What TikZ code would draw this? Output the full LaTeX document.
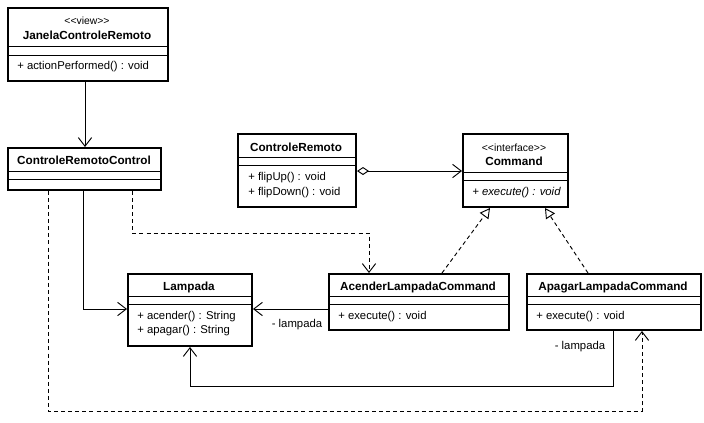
\documentclass[tikz,border=0pt]{standalone}
\usepackage{fontspec}
\setmainfont{Liberation Sans}
\usetikzlibrary{arrows.meta}

\begin{document}
\begin{tikzpicture}[x=0.75pt,y=-0.75pt,
  classbox/.style={draw,line width=1.5pt,anchor=north west,inner sep=0pt},
  cname/.style={font=\fontsize{8.8}{10}\selectfont\bfseries,inner sep=0pt},
  stereo/.style={font=\fontsize{7.8}{8}\selectfont,inner sep=0pt},
  meth/.style={font=\fontsize{8.5}{10}\selectfont,anchor=west,inner sep=0pt},
  compart/.style={line width=0.75pt},
  assoc/.style={line width=0.7pt,-{Straight Barb[length=6.5pt,width=10pt]}},
  depend/.style={assoc,dash pattern=on 3pt off 2.3pt},
  realize/.style={line width=0.7pt,dash pattern=on 3pt off 2.3pt,-{Triangle[open,length=7.5pt,width=8pt]}},
  aggreg/.style={line width=0.7pt,{Diamond[open,length=9pt,width=6pt]}-{Straight Barb[length=6.5pt,width=10pt]}}]

  \path[fill=white,use as bounding box] (0,0) rectangle (704,422);

  % classes
  \node (janela) at (7,7) [classbox,minimum width=120pt,minimum height=54.75pt] {};
  \node (control) at (7,147) [classbox,minimum width=114.75pt,minimum height=31.5pt] {};
  \node (remoto) at (237,133) [classbox,minimum width=88.5pt,minimum height=54.75pt] {};
  \node (command) at (462,133) [classbox,minimum width=78.75pt,minimum height=54.75pt] {};
  \node (lampada) at (127,273) [classbox,minimum width=93pt,minimum height=54pt] {};
  \node (acender) at (328,273) [classbox,minimum width=135pt,minimum height=42pt] {};
  \node (apagar) at (526,273) [classbox,minimum width=130.5pt,minimum height=42pt] {};

  % compartments
  \draw[compart] (janela.west |- 0,46) -- (janela.east |- 0,46)
                 (janela.west |- 0,55) -- (janela.east |- 0,55);
  \draw[compart] (control.west |- 0,171) -- (control.east |- 0,171)
                 (control.west |- 0,179) -- (control.east |- 0,179);
  \draw[compart] (remoto.west |- 0,157) -- (remoto.east |- 0,157)
                 (remoto.west |- 0,165) -- (remoto.east |- 0,165);
  \draw[compart] (command.west |- 0,172) -- (command.east |- 0,172)
                 (command.west |- 0,180) -- (command.east |- 0,180);
  \draw[compart] (lampada.west |- 0,296) -- (lampada.east |- 0,296)
                 (lampada.west |- 0,304) -- (lampada.east |- 0,304);
  \draw[compart] (acender.west |- 0,296) -- (acender.east |- 0,296)
                 (acender.west |- 0,304) -- (acender.east |- 0,304);
  \draw[compart] (apagar.west |- 0,296) -- (apagar.east |- 0,296)
                 (apagar.west |- 0,304) -- (apagar.east |- 0,304);

  % texts
  \node (janelaST) at (87,21) [stereo] {<{}<view>{}>};
  \node (janelaN) at (87,35) [cname] {JanelaControleRemoto};
  \node (janelaM) at (17,67) [meth] {+ actionPerformed() : void};

  \node (controlN) at (84,160) [cname] {ControleRemotoControl};

  \node (remotoN) at (296,147) [cname] {ControleRemoto};
  \node (remotoM1) at (248,178) [meth] {+ flipUp() : void};
  \node (remotoM2) at (248,193) [meth] {+ flipDown() : void};

  \node (commandST) at (514,148) [stereo] {<{}<interface>{}>};
  \node (commandN) at (514,161) [cname] {Command};
  \node (commandM) at (472,193) [meth] {\itshape + execute() : void};

  \node (lampadaN) at (189,287) [cname] {Lampada};
  \node (lampadaM1) at (137,317) [meth] {+ acender() : String};
  \node (lampadaM2) at (137,331) [meth] {+ apagar() : String};

  \node (acenderN) at (418,287) [cname] {AcenderLampadaCommand};
  \node (acenderM) at (338,317) [meth] {+ execute() : void};

  \node (apagarN) at (613,287) [cname] {ApagarLampadaCommand};
  \node (apagarM) at (536,317) [meth] {+ execute() : void};

  \node (role1) at (297,325) [meth,anchor=center] {- lampada};
  \node (role2) at (580,347) [meth,anchor=center] {- lampada};

  % relations
  \draw[assoc] (janela.south -| 85,0) -- (control.north -| 85,0);
  \draw[aggreg] (remoto.east |- 0,171) -- (command.west |- 0,171);
  \draw[depend] (control.south -| 132,0) -- ++(0,42) -| (acender.north -| 369,0);
  \draw[assoc] (control.south -| 83,0) |- (lampada.west |- 0,309);
  \draw[depend] (control.south -| 48,0) -- ++(0,220) -| (apagar.south -| 642,0);
  \draw[assoc] (acender.west |- 0,309) -- (lampada.east |- 0,309);
  \draw[assoc] (apagar.south -| 613,0) -- ++(0,55) -| (lampada.south -| 190,0);
  \draw[realize] (acender.north -| 442,0) -- (command.south -| 490,0);
  \draw[realize] (apagar.north -| 588,0) -- (command.south -| 545,0);
\end{tikzpicture}
\end{document}
